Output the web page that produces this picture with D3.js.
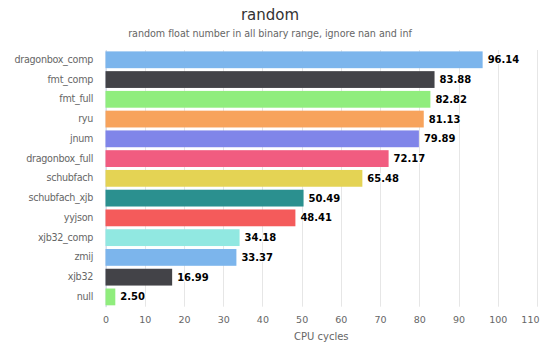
<!DOCTYPE html>
<html><head><meta charset="utf-8">
<script src="https://cdn.jsdelivr.net/npm/d3@7"></script>
<style>body{margin:0;background:#fff;}svg{display:block;font-family:"DejaVu Sans",Verdana,sans-serif;}</style>
</head><body>
<script>
const categories = ["dragonbox_comp","fmt_comp","fmt_full","ryu","jnum","dragonbox_full","schubfach","schubfach_xjb","yyjson","xjb32_comp","zmij","xjb32","null"];
const values = [96.14,83.88,82.82,81.13,79.89,72.17,65.48,50.49,48.41,34.18,33.37,16.99,2.50];
const colors = ["#7cb5ec","#434348","#90ed7d","#f7a35c","#8085e9","#f15c80","#e4d354","#2b908f","#f45b5b","#91e8e1","#7cb5ec","#434348","#90ed7d"];
const xTicks = [0,10,20,30,40,50,60,70,80,90,100,110];
const title = "random";
const subtitle = "random float number in all binary range, ignore nan and inf";
const xTitle = "CPU cycles";

const W = 540, H = 347;
const m = {left:105.5, right:3, top:50, bottom:40.3};
const svg = d3.select("body").append("svg").attr("width",W).attr("height",H);
const x = d3.scaleLinear().domain([0,110]).range([m.left, W - m.right]);
const y = d3.scaleBand().domain(categories).range([m.top, H - m.bottom]).paddingInner(0.15).paddingOuter(0.07);

svg.append("text").attr("x",W/2).attr("y",20).attr("text-anchor","middle")
  .attr("fill","#333").style("font-size","15px").text(title);
svg.append("text").attr("x",W/2).attr("y",36.5).attr("text-anchor","middle")
  .attr("fill","#666").style("font-size","9.6px").style("letter-spacing","-0.05px").text(subtitle);

// grid
svg.append("g").selectAll("line").data(xTicks).join("line")
  .attr("x1",d=>Math.round(x(d))+0.5).attr("x2",d=>Math.round(x(d))+0.5)
  .attr("y1",m.top).attr("y2",H-m.bottom).attr("stroke","#e6e6e6");

// x axis labels
const xa = svg.append("g").attr("transform",`translate(0,${H-m.bottom})`)
  .call(d3.axisBottom(x).tickValues(xTicks).tickSize(0).tickPadding(10));
xa.select(".domain").remove();
xa.selectAll("text").attr("fill","#666").style("font-size","9.5px").style("font-family","DejaVu Sans");
xa.selectAll(".tick").filter(d=>d===110).select("text").attr("text-anchor","end").attr("dx","2");

svg.append("text").attr("x",(m.left+W-m.right)/2).attr("y",H-7).attr("text-anchor","middle")
  .attr("fill","#666").style("font-size","10px").text(xTitle);

// y axis
const ya = svg.append("g").attr("transform",`translate(${m.left},0)`)
  .call(d3.axisLeft(y).tickSize(0).tickPadding(12.5));
ya.select(".domain").attr("stroke","#ccd6eb");
ya.selectAll("text").attr("fill","#666").style("font-size","9.6px").style("letter-spacing","-0.3px").style("font-family","DejaVu Sans");

// bars
svg.append("g").selectAll("rect").data(values).join("rect")
  .attr("x",x(0)).attr("y",(d,i)=>y(categories[i]))
  .attr("width",d=>x(d)-x(0)).attr("height",y.bandwidth())
  .attr("fill",(d,i)=>colors[i]);

// labels
svg.append("g").selectAll("text").data(values).join("text")
  .attr("x",d=>x(d)+5).attr("y",(d,i)=>y(categories[i])+y.bandwidth()/2)
  .attr("dy","0.35em").attr("fill","#000").style("font-size","10px").style("font-weight","bold")
  .attr("stroke","#fff").attr("stroke-width",2).attr("paint-order","stroke")
  .text(d=>d.toFixed(2));
</script>
</body></html>
